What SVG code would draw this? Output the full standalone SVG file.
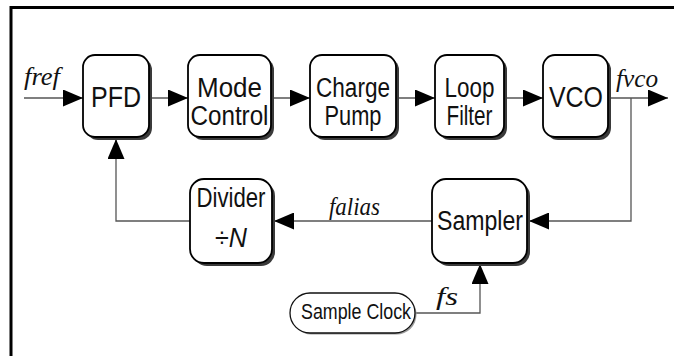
<svg xmlns="http://www.w3.org/2000/svg" width="674" height="356" viewBox="0 0 674 356">
  <style>
    .shadow { fill: #3a3a3a; }
    .box { fill: #ffffff; stroke: #000000; stroke-width: 1.8; }
    .pill { fill: #ffffff; stroke: #111111; stroke-width: 1.3; }
    .label { font-family: "Liberation Sans", Arial, sans-serif; font-size: 27px; fill: #111111; text-anchor: middle; }
    .big { font-size: 29px; }
    .small { font-family: "Liberation Sans", Arial, sans-serif; font-size: 22px; fill: #111111; text-anchor: middle; }
    .sig { font-family: "Liberation Serif", "Times New Roman", serif; font-style: italic; font-size: 26px; fill: #111111; }
    .wire { fill: none; stroke: #555555; stroke-width: 1.3; }
    .frame { fill: none; stroke: #000000; stroke-width: 3; }
  </style>
  <defs>
    <marker id="arrow" markerUnits="userSpaceOnUse" markerWidth="20" markerHeight="17" refX="20" refY="8.5" orient="auto" viewBox="0 0 20 17">
      <path d="M0,0 L20,8.5 L0,17 Z" fill="#000000"/>
    </marker>
  </defs>

  <rect width="674" height="356" fill="#ffffff"/>

  <!-- page frame (top and left edges) -->
  <path class="frame" d="M11,356 V7.5 H674"/>

  <!-- connectors -->
  <g id="connectors">
    <path class="wire" d="M24,98 H83" marker-end="url(#arrow)"/>
    <path class="wire" d="M152,98 H188" marker-end="url(#arrow)"/>
    <path class="wire" d="M274,98 H310" marker-end="url(#arrow)"/>
    <path class="wire" d="M399,98 H435" marker-end="url(#arrow)"/>
    <path class="wire" d="M507,98 H543" marker-end="url(#arrow)"/>
    <path class="wire" d="M611,98 H668" marker-end="url(#arrow)"/>
    <path class="wire" d="M631,98 V221 H529" marker-end="url(#arrow)"/>
    <path class="wire" d="M432,221 H274" marker-end="url(#arrow)"/>
    <path class="wire" d="M190,221 H116 V139" marker-end="url(#arrow)"/>
    <path class="wire" d="M415,313 H480 V264" marker-end="url(#arrow)"/>
  </g>

  <!-- signal labels -->
  <g id="signal-labels">
    <text class="sig" x="24" y="85" textLength="36" lengthAdjust="spacingAndGlyphs">fref</text>
    <text class="sig" x="616" y="87" textLength="42" lengthAdjust="spacingAndGlyphs">fvco</text>
    <text class="sig" x="329" y="215" textLength="51" lengthAdjust="spacingAndGlyphs">falias</text>
    <text class="sig" x="436" y="305" textLength="22" lengthAdjust="spacingAndGlyphs">fs</text>
  </g>

  <g id="pfd">
    <rect class="shadow" x="86" y="58" width="66" height="82" rx="12"/>
    <rect class="box" x="83" y="55" width="66" height="82" rx="12"/>
    <text class="label big" x="116" y="107" textLength="50" lengthAdjust="spacingAndGlyphs">PFD</text>
  </g>

  <g id="mode-control">
    <rect class="shadow" x="191" y="58" width="83" height="82" rx="12"/>
    <rect class="box" x="188" y="55" width="83" height="82" rx="12"/>
    <text class="label" x="229.5" y="97" textLength="65" lengthAdjust="spacingAndGlyphs">Mode</text>
    <text class="label" x="229.5" y="125" textLength="78" lengthAdjust="spacingAndGlyphs">Control</text>
  </g>

  <g id="charge-pump">
    <rect class="shadow" x="313" y="58" width="86" height="82" rx="12"/>
    <rect class="box" x="310" y="55" width="86" height="82" rx="12"/>
    <text class="label" x="353" y="97" textLength="74" lengthAdjust="spacingAndGlyphs">Charge</text>
    <text class="label" x="353" y="125" textLength="57" lengthAdjust="spacingAndGlyphs">Pump</text>
  </g>

  <g id="loop-filter">
    <rect class="shadow" x="438" y="58" width="69" height="82" rx="12"/>
    <rect class="box" x="435" y="55" width="69" height="82" rx="12"/>
    <text class="label" x="469.5" y="97" textLength="50" lengthAdjust="spacingAndGlyphs">Loop</text>
    <text class="label" x="469.5" y="125" textLength="46" lengthAdjust="spacingAndGlyphs">Filter</text>
  </g>

  <g id="vco">
    <rect class="shadow" x="546" y="58" width="65" height="82" rx="12"/>
    <rect class="box" x="543" y="55" width="65" height="82" rx="12"/>
    <text class="label big" x="576" y="107" textLength="54" lengthAdjust="spacingAndGlyphs">VCO</text>
  </g>

  <g id="sampler">
    <rect class="shadow" x="435" y="182" width="95" height="84" rx="14"/>
    <rect class="box" x="432" y="179" width="95" height="84" rx="14"/>
    <text class="label" x="480" y="230" textLength="86" lengthAdjust="spacingAndGlyphs">Sampler</text>
  </g>

  <g id="divider">
    <rect class="shadow" x="193" y="182" width="82" height="84" rx="14"/>
    <rect class="box" x="190" y="179" width="82" height="84" rx="14"/>
    <text class="label" x="231" y="207" textLength="69" lengthAdjust="spacingAndGlyphs">Divider</text>
    <text class="label" x="231" y="247" textLength="32" lengthAdjust="spacingAndGlyphs">÷<tspan font-style="italic">N</tspan></text>
  </g>

  <g id="sample-clock">
    <rect x="291.5" y="294.5" width="125" height="40" rx="20" fill="#9a9a9a"/>
    <rect class="pill" x="290" y="293" width="125" height="40" rx="20"/>
    <text class="small" x="356" y="319" textLength="110" lengthAdjust="spacingAndGlyphs">Sample Clock</text>
  </g>
</svg>
